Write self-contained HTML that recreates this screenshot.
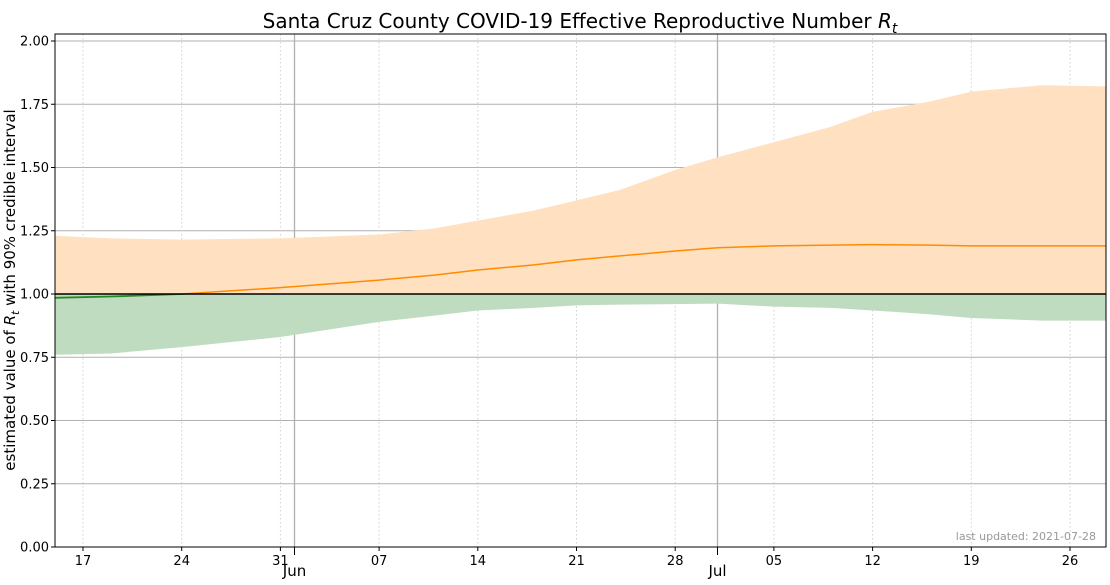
<!DOCTYPE html>
<html><head><meta charset="utf-8"><style>
body{margin:0;background:#fff;font-family:"Liberation Sans","DejaVu Sans",sans-serif;}
svg text{font-family:"DejaVu Sans","Liberation Sans",sans-serif;}
</style></head><body>
<svg id="c" width="1110" height="580" xmlns="http://www.w3.org/2000/svg"></svg>
<script>
// day offsets from May 15, 2021
const days   = [0, 4, 9, 16, 23, 27, 30, 34, 37, 40, 44, 47, 51, 55, 58, 62, 65, 70, 75];
const median = [0.985, 0.99, 1.0, 1.025, 1.055, 1.075, 1.095, 1.115, 1.135, 1.15, 1.17, 1.183, 1.19, 1.193, 1.195, 1.193, 1.19, 1.19, 1.19];
const upper  = [1.23, 1.22, 1.215, 1.22, 1.235, 1.26, 1.29, 1.33, 1.37, 1.41, 1.49, 1.54, 1.60, 1.66, 1.72, 1.76, 1.80, 1.825, 1.82];
const lower  = [0.76, 0.765, 0.79, 0.83, 0.89, 0.915, 0.935, 0.945, 0.955, 0.958, 0.96, 0.962, 0.95, 0.945, 0.935, 0.92, 0.905, 0.895, 0.895];
const yTicks = [0, 0.25, 0.5, 0.75, 1.0, 1.25, 1.5, 1.75, 2.0];
const xTickDays = [2, 9, 16, 23, 30, 37, 44, 51, 58, 65, 72];
const xTickLabels = ["17","24","31","07","14","21","28","05","12","19","26"];
const monthDays = [17, 47];
const monthLabels = ["Jun","Jul"];

const L=55, R=1106, T=34, B=547;
const X = d => 54.8 + d*14.1;
const Y = v => 547 - v*253;
const svg = document.getElementById('c');
const NS='http://www.w3.org/2000/svg';
function mk(tag, attrs, parent){const e=document.createElementNS(NS,tag);for(const k in attrs)e.setAttribute(k,attrs[k]);(parent||svg).appendChild(e);return e;}

const defs = mk('defs',{});
const cpA = mk('clipPath',{id:'above'},defs); mk('rect',{x:L,y:T,width:R-L,height:Y(1)-T},cpA);
const cpB = mk('clipPath',{id:'below'},defs); mk('rect',{x:L,y:Y(1),width:R-L,height:B-Y(1)},cpB);
const cpP = mk('clipPath',{id:'plot'},defs); mk('rect',{x:L,y:T,width:R-L,height:B-T},cpP);

yTicks.forEach(v=>{
  const g=mk('line',{x1:L,x2:R,y1:Y(v),y2:Y(v),stroke:'#b0b0b0','stroke-width':1});
  
  
  const t=mk('text',{x:L-6,y:Y(v)+4.5,'text-anchor':'end','font-size':13,fill:'#000'});
  t.textContent=v.toFixed(2);
  
  
  mk('line',{x1:L-4,x2:L,y1:Y(v),y2:Y(v),stroke:'#000'});
});
xTickDays.forEach((d,i)=>{
  const g=mk('line',{x1:X(d),x2:X(d),y1:T,y2:B,stroke:'#d0d0d0','stroke-dasharray':'1.5,2.5'});
  
  
  mk('line',{x1:X(d),x2:X(d),y1:B,y2:B+4,stroke:'#000'});
  const t=mk('text',{x:X(d),y:B+18,'text-anchor':'middle','font-size':13});
  t.textContent=xTickLabels[i];
  
  
});
monthDays.forEach((d,i)=>{
  const g=mk('line',{x1:X(d),x2:X(d),y1:T,y2:B,stroke:'#b0b0b0','stroke-width':1.3});
  
  
  mk('line',{x1:X(d),x2:X(d),y1:B,y2:B+8,stroke:'#000'});
  const t=mk('text',{x:X(d),y:B+29,'text-anchor':'middle','font-size':15});
  t.textContent=monthLabels[i];
  
  
});

let bp='M'+days.map((d,i)=>X(d)+','+Y(upper[i])).join('L');
for(let i=days.length-1;i>=0;i--) bp+='L'+X(days[i])+','+Y(lower[i]);
bp+='Z';
const gp = mk('g',{'clip-path':'url(#plot)'});
const ba=mk('path',{d:bp,fill:'#ffe0c0','clip-path':'url(#above)'},gp);


const bb=mk('path',{d:bp,fill:'#c0dcc0','clip-path':'url(#below)'},gp);


const lp='M'+days.map((d,i)=>X(d)+','+Y(median[i])).join('L');
const la=mk('path',{d:lp,fill:'none',stroke:'#ff8c00','stroke-width':1.5,'clip-path':'url(#above)'},gp);


const lb=mk('path',{d:lp,fill:'none',stroke:'#228b22','stroke-width':1.8,'clip-path':'url(#below)'},gp);


const one=mk('line',{x1:L,x2:R,y1:Y(1),y2:Y(1),stroke:'#000','stroke-width':1.5});



const fr=mk('rect',{x:L,y:T,width:R-L,height:B-T,fill:'none',stroke:'#000','stroke-width':1});



const tt=mk('text',{x:580,y:28,'text-anchor':'middle','font-size':20});
tt.innerHTML='Santa Cruz County COVID-19 Effective Reproductive Number <tspan font-style="italic">R</tspan><tspan font-style="italic" font-size="14" dy="5">t</tspan>';



const yl=mk('text',{x:0,y:0,'text-anchor':'middle','font-size':15,transform:'translate(15,290) rotate(-90)'});
yl.innerHTML='estimated value of <tspan font-style="italic">R</tspan><tspan font-style="italic" font-size="11" dy="4">t</tspan><tspan dy="-4"> with 90% credible interval</tspan>';



const lu=mk('text',{x:1096,y:540,'text-anchor':'end','font-size':11,fill:'#999'});
lu.textContent='last updated: 2021-07-28';


</script>
</body></html>
